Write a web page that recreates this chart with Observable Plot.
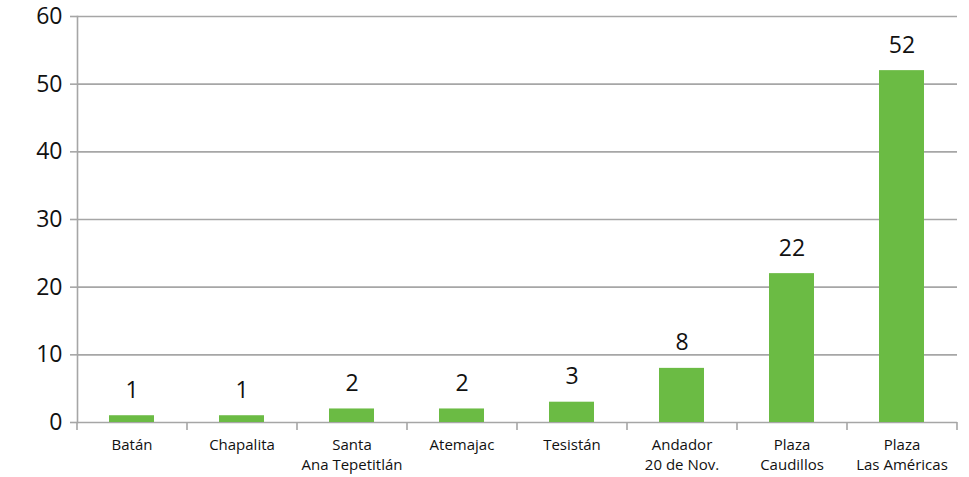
<!DOCTYPE html>
<html>
<head>
<meta charset="utf-8">
<script src="https://cdn.jsdelivr.net/npm/d3@7"></script>
<script src="https://cdn.jsdelivr.net/npm/@observablehq/plot@0.6"></script>
<style>
  html, body { margin: 0; padding: 0; background: #fff; }
  #chart svg { display: block; }
</style>
</head>
<body>
<div id="chart"></div>
<script>
const categories = ["Batán", "Chapalita", "Santa\nAna Tepetitlán", "Atemajac", "Tesistán", "Andador\n20 de Nov.", "Plaza\nCaudillos", "Plaza\nLas Américas"];
const values = [1, 1, 2, 2, 3, 8, 22, 52];
const yTicks = [0, 10, 20, 30, 40, 50, 60];

const data = categories.map((c, i) => ({category: c, value: values[i]}));

const W = 969, H = 477;
const mL = 77, mR = 12, mT = 16, mB = 55;
const step = (W - mL - mR) / categories.length;
const gridColor = "#a6a6a6";
const font = "'Open Sans', sans-serif";

const chart = Plot.plot({
  width: W,
  height: H,
  marginLeft: mL,
  marginRight: mR,
  marginTop: mT,
  marginBottom: mB,
  style: {fontFamily: font, background: "#fff", color: "#111", overflow: "visible"},
  x: {domain: categories, paddingInner: 0.59, paddingOuter: 0.295, label: null},
  y: {domain: [0, 60], label: null},
  marks: [
    Plot.gridY(yTicks, {stroke: gridColor, strokeOpacity: 1, strokeWidth: 1.6}),
    Plot.axisY({ticks: yTicks, tickSize: 7, tickPadding: 8, stroke: gridColor, strokeWidth: 1.6, fontSize: 23, letterSpacing: 1, fill: "#111", label: null}),
    Plot.frame({anchor: "left", stroke: gridColor, strokeWidth: 1.6}),
    Plot.barY(data, {x: "category", y: "value", fill: "#6BBB44"}),
    Plot.text(data, {x: "category", y: "value", text: d => String(d.value), lineAnchor: "bottom", dy: -18, fontSize: 23, letterSpacing: 1, fill: "#111"}),
    Plot.axisX({ticks: categories, tickSize: 8, dx: -step / 2, stroke: gridColor, strokeWidth: 1.6, tickFormat: () => "", label: null}),
    Plot.axisX({ticks: [categories[categories.length - 1]], tickSize: 8, dx: step / 2, stroke: gridColor, strokeWidth: 1.6, tickFormat: () => "", label: null}),
    Plot.axisX({ticks: categories, tickSize: 0, tickPadding: 13, fontSize: 15, letterSpacing: 0.6, lineHeight: 1.36, fill: "#111", label: null})
  ]
});
document.getElementById("chart").appendChild(chart);
</script>
</body>
</html>
